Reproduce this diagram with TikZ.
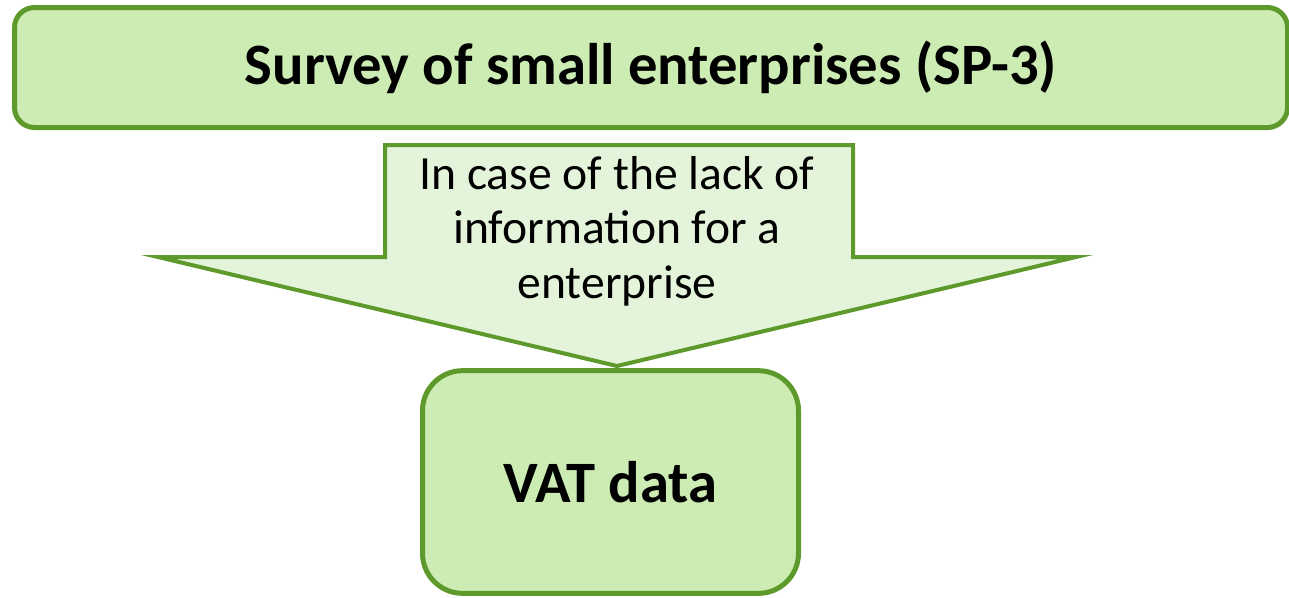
\documentclass[tikz,border=0pt]{standalone}
\usepackage{fontspec}
\setmainfont{Carlito}
\usepackage{tikz}
\tikzset{every picture/.style={line width=0.75pt}}
\definecolor{leafgreen}{RGB}{94,154,43}
\definecolor{boxfill}{RGB}{204,236,180}
\definecolor{arrowfill}{RGB}{228,244,218}
\tikzset{
  greenbox/.style={draw=leafgreen, fill=boxfill, line width=3.75pt, align=center},
  titletext/.style={font=\fontsize{44}{50}\selectfont\bfseries}
}

\begin{document}
\begin{tikzpicture}[x=0.75pt,y=0.75pt,yscale=-1,xscale=1]
%uncomment if require: \path (0,597); %set diagram left start at 0, and has height of 597
\useasboundingbox (0,0) rectangle (1289,597);
%Rounded Rect: survey box
\node[greenbox, rounded corners=15pt, minimum width=954.75pt, minimum height=90pt, titletext] (survey) at (651,67.5) {Survey of small enterprises (SP-3)};
%Shape: Down Arrow
\draw [color=leafgreen, fill=arrowfill, line width=3pt, line join=miter]  (385,145) -- (853,145) -- (853,257) -- (1076,257) -- (617,366) -- (158,257) -- (385,257) -- cycle ;
%Rounded Rect: VAT box
\node[greenbox, rounded corners=30pt, minimum width=282pt, minimum height=167pt, titletext] (vat) at (610.5,482) {VAT data};

% Text Node
\node[align=center, font=\fontsize{35.7}{41}\selectfont] (lack) at (617,231) {In case of the lack of\\information for a\\enterprise};
\end{tikzpicture}
\end{document}
